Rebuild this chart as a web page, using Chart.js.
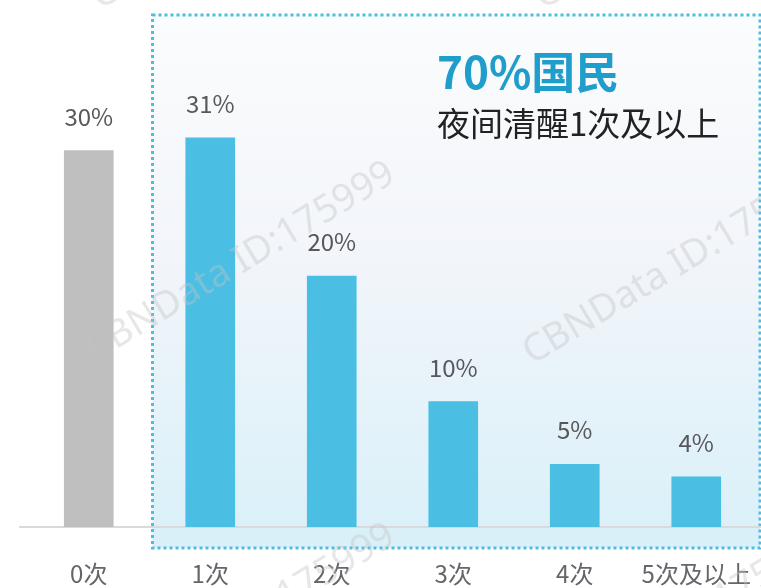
<!DOCTYPE html>
<html>
<head>
<meta charset="utf-8">
<script src="https://cdn.jsdelivr.net/npm/chart.js@4/dist/chart.umd.min.js"></script>
<style>
  html, body { margin: 0; padding: 0; background: #ffffff; }
  #wrap { width: 761px; height: 588px; }
</style>
</head>
<body>
<div id="wrap"><canvas id="chart" width="761" height="588"></canvas></div>
<script>
// Data
const categories = ["0次", "1次", "2次", "3次", "4次", "5次及以上"];
const shares = [30, 31, 20, 10, 5, 4]; // %
const barColors = ["#bfbfbf", "#4abfe3", "#4abfe3", "#4abfe3", "#4abfe3", "#4abfe3"];
const headline = "70%国民";
const subline = "夜间清醒1次及以上";
const watermarkText = "CBNData ID:175999";

const cjk = '"Noto Sans CJK SC", "Noto Sans", sans-serif';

// Gradient panel with dotted border behind bars 1..5, plus the base line
const panelPlugin = {
  id: "panel",
  beforeDatasetsDraw(chart) {
    const { ctx, scales: { x, y }, chartArea } = chart;
    const left = (x.getPixelForValue(0) + x.getPixelForValue(1)) / 2 + 3;
    const right = chart.width - 1;
    const top = chartArea.top - 10;
    const bottom = y.getPixelForValue(0) + 21;

    ctx.save();
    const grad = ctx.createLinearGradient(0, top, 0, bottom);
    grad.addColorStop(0, "#fbfcfd");
    grad.addColorStop(0.45, "#f2f5fa");
    grad.addColorStop(1, "#d9f0f9");
    ctx.fillStyle = grad;
    ctx.fillRect(left, top, right - left, bottom - top);

    ctx.strokeStyle = "#4abfe3";
    ctx.lineWidth = 3;
    ctx.setLineDash([3, 3]);
    ctx.strokeRect(left, top, right - left, bottom - top);
    ctx.setLineDash([]);

    // base line
    const y0 = y.getPixelForValue(0);
    ctx.strokeStyle = "#dadada";
    ctx.lineWidth = 2;
    ctx.beginPath();
    ctx.moveTo(19, y0);
    ctx.lineTo(chart.width, y0);
    ctx.stroke();
    ctx.restore();
  },
};

// Value labels, headline text and watermark
const labelPlugin = {
  id: "labels",
  afterDatasetsDraw(chart) {
    const { ctx } = chart;
    const meta = chart.getDatasetMeta(0);
    ctx.save();
    ctx.font = "24px " + cjk;
    ctx.fillStyle = "#58575b";
    ctx.textAlign = "center";
    ctx.textBaseline = "middle";
    meta.data.forEach((bar, i) => {
      ctx.fillText(shares[i] + "%", bar.x, bar.y - 34);
    });

    ctx.textAlign = "left";
    ctx.textBaseline = "alphabetic";
    ctx.font = "bold 44px " + cjk;
    ctx.fillStyle = "#1f9ecb";
    ctx.fillText(headline, 437, 89);
    ctx.font = "33px " + cjk;
    ctx.fillStyle = "#222222";
    ctx.fillText(subline, 437, 136);
    ctx.restore();
  },
  afterDraw(chart) {
    const { ctx } = chart;
    const anchors = [[100, 10], [543, 10], [95, 362], [532, 365], [95, 724], [532, 727]];
    ctx.save();
    ctx.font = "38px " + '"Noto Sans", sans-serif';
    ctx.fillStyle = "rgba(195, 195, 195, 0.4)";
    ctx.textAlign = "left";
    ctx.textBaseline = "alphabetic";
    anchors.forEach(([ax, ay]) => {
      ctx.save();
      ctx.translate(ax, ay);
      ctx.rotate((-31 * Math.PI) / 180);
      ctx.fillText(watermarkText, 0, 0);
      ctx.restore();
    });
    ctx.restore();
  },
};

new Chart(document.getElementById("chart").getContext("2d"), {
  type: "bar",
  data: {
    labels: categories,
    datasets: [
      {
        data: shares,
        backgroundColor: barColors,
        borderWidth: 0,
        barThickness: 49,
      },
    ],
  },
  options: {
    responsive: false,
    animation: false,
    layout: { padding: { left: 28, right: 4, top: 25, bottom: 0 } },
    plugins: {
      legend: { display: false },
      tooltip: { enabled: false },
    },
    scales: {
      x: {
        grid: { display: false, drawTicks: false },
        border: { display: false },
        ticks: {
          padding: 32,
          maxRotation: 0,
          minRotation: 0,
          autoSkip: false,
          color: "#67646b",
          font: { family: cjk, size: 24 },
        },
        afterFit(scale) {
          scale.height = 61;
          scale.paddingLeft = 0;
          scale.paddingRight = 0;
        },
      },
      y: {
        display: false,
        min: 0,
        max: 40,
      },
    },
  },
  plugins: [panelPlugin, labelPlugin],
});
</script>
</body>
</html>
